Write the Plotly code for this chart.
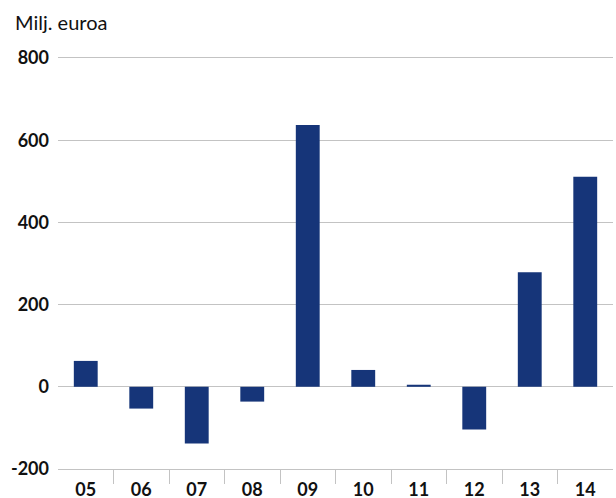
import plotly.graph_objects as go

years = ["05", "06", "07", "08", "09", "10", "11", "12", "13", "14"]
values = [63, -53, -138, -36, 637, 41, 5, -104, 279, 511]
y_ticks = [-200, 0, 200, 400, 600, 800]
y_ticktext = ["-200", "0", "200", "400", "600", "800"]
unit_label = "Milj. euroa"

bar_color = "#163579"
grid_color = "#c3c3c3"
font_family = "Lato, 'Open Sans', sans-serif"

fig = go.Figure(
    go.Bar(
        x=list(range(len(years))),
        y=values,
        marker=dict(color=bar_color, line=dict(width=0)),
        width=0.43,
    )
)

fig.update_layout(
    width=616,
    height=498,
    margin=dict(l=58, r=3, t=58, b=29, autoexpand=False),
    paper_bgcolor="white",
    plot_bgcolor="white",
    showlegend=False,
    title=dict(
        text=unit_label,
        x=15 / 616,
        xref="container",
        xanchor="left",
        y=1 - 23 / 498,
        yref="container",
        yanchor="middle",
        font=dict(family=font_family, size=20, color="#111111"),
    ),
)

fig.update_xaxes(
    range=[-0.5, len(years) - 0.5],
    tickmode="array",
    tickvals=list(range(len(years))),
    ticktext=years,
    ticks="outside",
    ticklen=0,
    tickfont=dict(family=font_family, size=18, color="#111111", weight="bold"),
    ticklabelstandoff=4,
    showgrid=False,
    zeroline=False,
    showline=True,
    linecolor=grid_color,
    linewidth=1,
    mirror=True,
    minor=dict(
        tickmode="array",
        tickvals=[i + 0.5 for i in range(len(years) - 1)],
        ticks="outside",
        ticklen=14,
        tickcolor=grid_color,
        tickwidth=1,
        showgrid=False,
    ),
    fixedrange=True,
)

fig.update_yaxes(
    range=[-200, 800],
    tickmode="array",
    tickvals=y_ticks,
    ticktext=y_ticktext,
    tickfont=dict(family=font_family, size=18, color="#111111", weight="bold"),
    ticks="",
    ticklabelstandoff=8,
    showgrid=True,
    gridcolor=grid_color,
    gridwidth=1,
    zeroline=True,
    zerolinecolor=grid_color,
    zerolinewidth=1,
    showline=False,
    fixedrange=True,
)

fig.write_html(
    "out.html",
    config={"displayModeBar": False, "staticPlot": True},
    post_script="document.body.style.margin='0';document.body.style.padding='0';",
)
